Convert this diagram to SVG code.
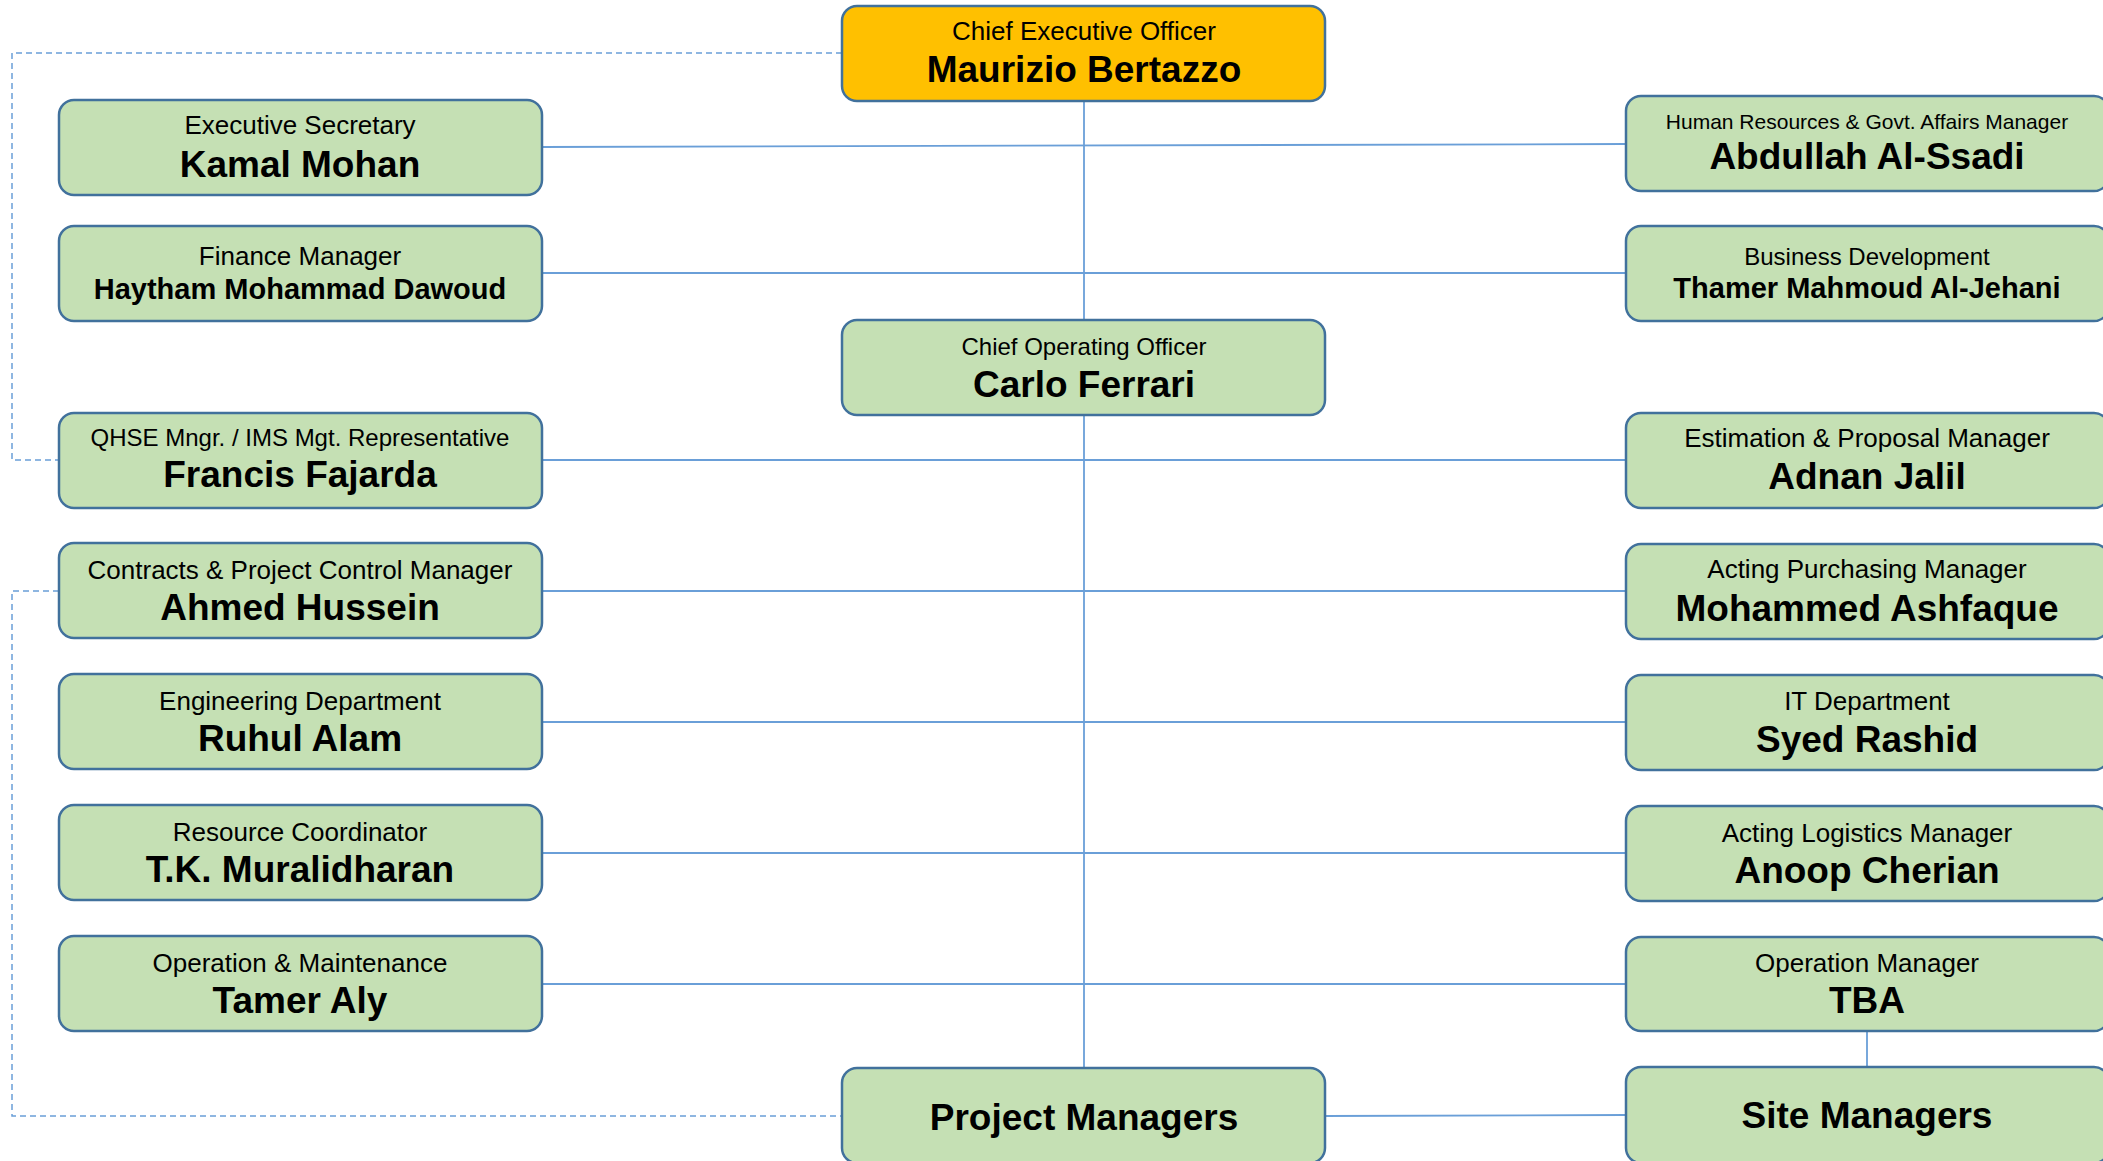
<svg xmlns="http://www.w3.org/2000/svg" width="2103" height="1161" viewBox="0 0 2103 1161">
<style>
  .box { fill: #C5E0B4; stroke: #41719C; stroke-width: 2.5; }
  .ceo { fill: #FFC000; stroke: #41719C; stroke-width: 2.5; }
  .t { font-family: "Liberation Sans", Arial, sans-serif; fill: #000; text-anchor: middle; font-size: 26px; }
  .n { font-family: "Liberation Sans", Arial, sans-serif; fill: #000; text-anchor: middle; font-size: 37px; font-weight: bold; }
  .ln { stroke: #6A9FD8; stroke-width: 1.8; fill: none; }
  .dash { stroke: #6A9FD8; stroke-width: 1.5; fill: none; stroke-dasharray: 6 4; }
</style>
<rect width="2103" height="1161" fill="#FFFFFF"/>
<g id="connectors">
  <line class="ln" x1="1084" y1="101" x2="1084" y2="1068"/>
  <line class="ln" x1="542" y1="147" x2="1626" y2="144"/>
  <line class="ln" x1="542" y1="273" x2="1626" y2="273"/>
  <line class="ln" x1="542" y1="460" x2="1626" y2="460"/>
  <line class="ln" x1="542" y1="591" x2="1626" y2="591"/>
  <line class="ln" x1="542" y1="722" x2="1626" y2="722"/>
  <line class="ln" x1="542" y1="853" x2="1626" y2="853"/>
  <line class="ln" x1="542" y1="984" x2="1626" y2="984"/>
  <line class="ln" x1="1325" y1="1116" x2="1626" y2="1115"/>
  <line class="ln" x1="1867" y1="1031" x2="1867" y2="1067"/>
  <polyline class="dash" points="842,53 12,53 12,460 59,460"/>
  <polyline class="dash" points="59,591 12,591 12,1116 842,1116"/>
</g>
<g id="ceo">
  <rect class="ceo" x="842" y="6" width="483" height="95" rx="15"/>
  <text class="t" x="1084" y="40" font-size="24">Chief Executive Officer</text>
  <text class="n" x="1084" y="82">Maurizio Bertazzo</text>
</g>
<g id="coo">
  <rect class="box" x="842" y="320" width="483" height="95" rx="15"/>
  <text class="t" x="1084" y="355" style="font-size:24px">Chief Operating Officer</text>
  <text class="n" x="1084" y="397">Carlo Ferrari</text>
</g>
<g id="exec-secretary">
  <rect class="box" x="59" y="100" width="483" height="95" rx="15"/>
  <text class="t" x="300" y="134">Executive Secretary</text>
  <text class="n" x="300" y="177">Kamal Mohan</text>
</g>
<g id="finance">
  <rect class="box" x="59" y="226" width="483" height="95" rx="15"/>
  <text class="t" x="300" y="265">Finance Manager</text>
  <text class="n" x="300" y="299" style="font-size:29px">Haytham Mohammad Dawoud</text>
</g>
<g id="qhse">
  <rect class="box" x="59" y="413" width="483" height="95" rx="15"/>
  <text class="t" x="300" y="446" style="font-size:24px">QHSE Mngr. / IMS Mgt. Representative</text>
  <text class="n" x="300" y="487">Francis Fajarda</text>
</g>
<g id="contracts">
  <rect class="box" x="59" y="543" width="483" height="95" rx="15"/>
  <text class="t" x="300" y="579">Contracts &amp; Project Control Manager</text>
  <text class="n" x="300" y="620">Ahmed Hussein</text>
</g>
<g id="engineering">
  <rect class="box" x="59" y="674" width="483" height="95" rx="15"/>
  <text class="t" x="300" y="710">Engineering Department</text>
  <text class="n" x="300" y="751">Ruhul Alam</text>
</g>
<g id="resource">
  <rect class="box" x="59" y="805" width="483" height="95" rx="15"/>
  <text class="t" x="300" y="841">Resource Coordinator</text>
  <text class="n" x="300" y="882">T.K. Muralidharan</text>
</g>
<g id="om">
  <rect class="box" x="59" y="936" width="483" height="95" rx="15"/>
  <text class="t" x="300" y="972">Operation &amp; Maintenance</text>
  <text class="n" x="300" y="1013">Tamer Aly</text>
</g>
<g id="project-managers">
  <rect class="box" x="842" y="1068" width="483" height="95" rx="15"/>
  <text class="n" x="1084" y="1130">Project Managers</text>
</g>
<g id="hr">
  <rect class="box" x="1626" y="96" width="483" height="95" rx="15"/>
  <text class="t" x="1867" y="129" style="font-size:21px">Human Resources &amp; Govt. Affairs Manager</text>
  <text class="n" x="1867" y="169">Abdullah Al-Ssadi</text>
</g>
<g id="business">
  <rect class="box" x="1626" y="226" width="483" height="95" rx="15"/>
  <text class="t" x="1867" y="265" style="font-size:24px">Business Development</text>
  <text class="n" x="1867" y="298" style="font-size:29px">Thamer Mahmoud Al-Jehani</text>
</g>
<g id="estimation">
  <rect class="box" x="1626" y="413" width="483" height="95" rx="15"/>
  <text class="t" x="1867" y="447">Estimation &amp; Proposal Manager</text>
  <text class="n" x="1867" y="489">Adnan Jalil</text>
</g>
<g id="purchasing">
  <rect class="box" x="1626" y="544" width="483" height="95" rx="15"/>
  <text class="t" x="1867" y="578">Acting Purchasing Manager</text>
  <text class="n" x="1867" y="621">Mohammed Ashfaque</text>
</g>
<g id="it">
  <rect class="box" x="1626" y="675" width="483" height="95" rx="15"/>
  <text class="t" x="1867" y="710">IT Department</text>
  <text class="n" x="1867" y="752">Syed Rashid</text>
</g>
<g id="logistics">
  <rect class="box" x="1626" y="806" width="483" height="95" rx="15"/>
  <text class="t" x="1867" y="842">Acting Logistics Manager</text>
  <text class="n" x="1867" y="883">Anoop Cherian</text>
</g>
<g id="operation-manager">
  <rect class="box" x="1626" y="937" width="483" height="94" rx="15"/>
  <text class="t" x="1867" y="972">Operation Manager</text>
  <text class="n" x="1867" y="1013">TBA</text>
</g>
<g id="site-managers">
  <rect class="box" x="1626" y="1067" width="483" height="96" rx="15"/>
  <text class="n" x="1867" y="1128">Site Managers</text>
</g>
</svg>
